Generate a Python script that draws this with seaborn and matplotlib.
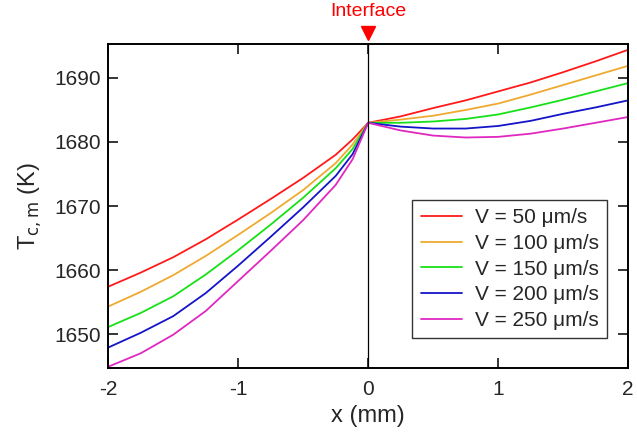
import matplotlib
matplotlib.use("Agg")
import matplotlib.pyplot as plt
import seaborn as sns
import pandas as pd

# positions (mm), left (solid side) and right (liquid side)
x_left = [-2.0, -1.75, -1.5, -1.25, -1.0, -0.75, -0.5, -0.25, -0.12, 0.0]
x_right = [0.25, 0.5, 0.75, 1.0, 1.25, 1.5, 1.75, 2.0]

# T_c,m (K) for each pulling velocity
t50_left = [1657.4, 1659.6, 1662.0, 1664.8, 1667.9, 1671.1, 1674.4, 1678.0, 1680.4, 1683.0]
t100_left = [1654.3, 1656.6, 1659.2, 1662.2, 1665.5, 1668.9, 1672.5, 1676.7, 1679.6, 1683.0]
t150_left = [1651.1, 1653.3, 1655.9, 1659.3, 1663.1, 1667.1, 1671.3, 1675.9, 1678.9, 1683.0]
t200_left = [1647.9, 1650.2, 1652.8, 1656.4, 1660.7, 1665.2, 1669.8, 1674.7, 1678.1, 1683.0]
t250_left = [1644.9, 1647.0, 1649.9, 1653.6, 1658.3, 1663.0, 1667.8, 1673.3, 1677.3, 1683.0]

t50_right = [1684.0, 1685.3, 1686.5, 1687.9, 1689.3, 1690.9, 1692.6, 1694.4]
t100_right = [1683.5, 1684.1, 1685.0, 1686.0, 1687.4, 1688.9, 1690.4, 1691.9]
t150_right = [1683.0, 1683.2, 1683.6, 1684.3, 1685.4, 1686.6, 1687.9, 1689.2]
t200_right = [1682.4, 1682.1, 1682.1, 1682.5, 1683.3, 1684.4, 1685.4, 1686.5]
t250_right = [1681.8, 1681.0, 1680.7, 1680.8, 1681.3, 1682.1, 1683.0, 1683.9]

labels = ["V = 50 μm/s", "V = 100 μm/s", "V = 150 μm/s", "V = 200 μm/s", "V = 250 μm/s"]
colors = ["#ff1a1a", "#eeaa30", "#18e018", "#1414c8", "#e028c0"]

lefts = [t50_left, t100_left, t150_left, t200_left, t250_left]
rights = [t50_right, t100_right, t150_right, t200_right, t250_right]
frames = []
for lab, l, r in zip(labels, lefts, rights):
    frames.append(pd.DataFrame({"x": x_left + x_right, "T": l + r, "V": lab}))
df = pd.concat(frames, ignore_index=True)

sns.set_style("ticks")
plt.rcParams["font.family"] = ["Liberation Sans", "DejaVu Sans"]

fig = plt.figure(figsize=(6.37, 4.36), dpi=100)
ax = fig.add_axes([0.170, 0.156, 0.816, 0.743])

sns.lineplot(data=df, x="x", y="T", hue="V", palette=colors, linewidth=1.3, ax=ax, sort=False)

ax.axvline(0, color="black", linewidth=0.9)

ax.set_xlim(-2, 2)
ax.set_ylim(1644.7, 1695.3)
ax.set_xticks([-2, -1, 0, 1, 2])
ax.set_xticklabels(["-2", "-1", "0", "1", "2"])
ax.set_yticks([1650, 1660, 1670, 1680, 1690])

for side in ax.spines.values():
    side.set_linewidth(1.4)
    side.set_color("black")
ax.tick_params(direction="in", length=7, width=1.3, labelsize=15, top=True, right=True)
ax.tick_params(axis="x", pad=9)
ax.tick_params(axis="y", pad=5)

ax.set_xlabel("x (mm)", fontsize=17, labelpad=4)
ax.set_ylabel("T$_{\\rm c,m}$ (K)", fontsize=17, labelpad=8)

leg = ax.legend(loc="upper left", bbox_to_anchor=(0.585, 0.519), borderaxespad=0, fontsize=15,
                frameon=True, fancybox=False, edgecolor="black", handlelength=2.0, handletextpad=0.6,
                borderpad=0.4, labelspacing=0.32)
leg.get_frame().set_linewidth(1.0)

# interface marker above the axes
ax.plot([0], [1.035], marker="v", color="red", markersize=10, transform=ax.get_xaxis_transform(), clip_on=False)
ax.text(0, 1.075, "Interface", color="red", fontsize=14, ha="center", va="bottom",
        transform=ax.get_xaxis_transform())

fig.savefig("out.png", dpi=100)
